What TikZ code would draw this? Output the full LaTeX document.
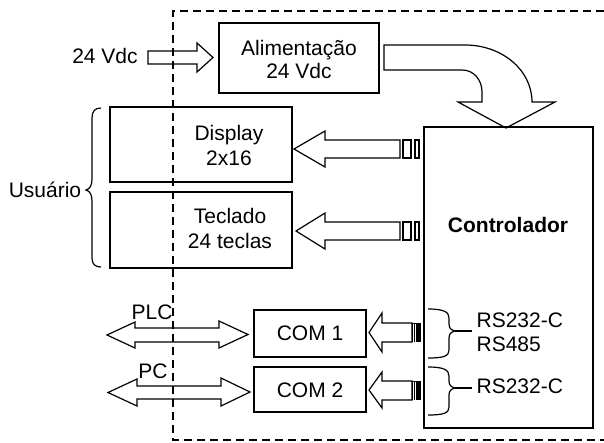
\documentclass[tikz,border=0pt]{standalone}
\usepackage{fontspec}
\setmainfont{Liberation Sans}
\begin{document}
\begin{tikzpicture}[x=1pt,y=-1pt,line width=1.2pt,line join=miter,
  box/.style={draw,line width=1.2pt,inner sep=0pt,outer sep=0pt},
  lbl/.style={font=\fontsize{21}{24}\selectfont,inner sep=0pt,anchor=base},
  lblw/.style={lbl,anchor=base west},
  blockarrow/.style={draw,line width=1.2pt,line join=miter},
  plug/.style={draw,line width=1.1pt},
  darkplug/.style={fill=black,draw=black,line width=0.6pt},
  bracepath/.style={draw,line width=1.2pt},
  boundary/.style={draw,line width=1.3pt,dash pattern=on 8pt off 5pt}]
\useasboundingbox (0,0) rectangle (604,442);

% boxes
\node[box,minimum width=160pt,minimum height=70pt] (alim) at (299,58) {};
\node[box,minimum width=182pt,minimum height=75pt] (disp) at (201,144.5) {};
\node[box,minimum width=182pt,minimum height=76pt] (tecl) at (201,230) {};
\node[box,minimum width=169pt,minimum height=301pt] (ctrl) at (508.5,277.5) {};
\node[box,minimum width=112pt,minimum height=47pt] (com1) at (310,333.5) {};
\node[box,minimum width=112pt,minimum height=45pt] (com2) at (310,389.5) {};

% texts
\node[lbl] (t24) at (105,63) {24 Vdc};
\node[lbl] (alim1) at (299,55) {Alimentação};
\node[lbl] (alim2) at (299,78) {24 Vdc};
\node[lbl] (disp1) at (229,140) {Display};
\node[lbl] (disp2) at (229,165) {2x16};
\node[lbl] (tecl1) at (230,223) {Teclado};
\node[lbl] (tecl2) at (230,248) {24 teclas};
\node[lbl] (usu) at (45,197) {Usuário};
\node[lbl,font=\fontsize{21}{24}\selectfont\bfseries] (ctrlt) at (508,232) {Controlador};
\node[lbl] (com1t) at (310,340) {COM 1};
\node[lbl] (com2t) at (310,397) {COM 2};
\node[lbl] (plc) at (152,319) {PLC};
\node[lbl] (pc) at (153,378) {PC};
\node[lblw] (rs1) at (476,327) {RS232-C};
\node[lblw] (rs2) at (476,351) {RS485};
\node[lblw] (rs3) at (476,393) {RS232-C};

% 24 Vdc input arrow
\draw[blockarrow] (148,51) -- (197,51) -- (197,43) -- (213,57.5) -- (197,72) -- (197,64) -- (148,64) -- cycle;

% curved power arrow
\draw[blockarrow] (384,45) -- (465,45) .. controls (502,45) and (532,70) .. (532,102)
  -- (555,102) -- (506,128) -- (458,102) -- (482,102) -- (482,92)
  .. controls (482,80) and (474,70) .. (462,70) -- (384,70) -- cycle;

% display arrow
\draw[blockarrow] (400,140) -- (325,140) -- (325,131) -- (294,149) -- (325,167) -- (325,158) -- (400,158) -- cycle;
\draw[plug] (403,140) rectangle (411,158);
\draw[plug] (415,140) rectangle (419,158);

% keyboard arrow
\draw[blockarrow] (400,222) -- (325,222) -- (325,213) -- (296,231) -- (325,249) -- (325,240) -- (400,240) -- cycle;
\draw[plug] (403,222) rectangle (411,240);
\draw[plug] (415,222) rectangle (419,240);

% COM arrows
\draw[blockarrow] (412,323) -- (382,323) -- (382,313) -- (369,332.5) -- (382,352) -- (382,342) -- (412,342) -- cycle;
\fill[black] (412,323) rectangle (421,342);
\draw[white,line width=0.7pt] (413.8,323.5) -- (413.8,341.5) (415.8,323.5) -- (415.8,341.5);
\draw[blockarrow] (412,381) -- (382,381) -- (382,372) -- (369,390) -- (382,408) -- (382,400) -- (412,400) -- cycle;
\fill[black] (412,381) rectangle (421,400);
\draw[white,line width=0.7pt] (413.8,381.5) -- (413.8,399.5) (415.8,381.5) -- (415.8,399.5);

% PLC / PC double arrows
\draw[blockarrow] (107,335) -- (135,322) -- (135,328) -- (219,328) -- (219,321) -- (248,334.5)
  -- (219,348) -- (219,342) -- (135,342) -- (135,348) -- cycle;
\draw[blockarrow] (108,392.5) -- (137,379) -- (137,386) -- (221,386) -- (221,378) -- (250,392)
  -- (221,406) -- (221,399) -- (137,399) -- (137,406) -- cycle;

% braces
\draw[bracepath] (101,108) .. controls (95,108) and (92,111) .. (92,118) -- (92,179)
  .. controls (92,185) and (90,189) .. (86,190) .. controls (90,191) and (92,195) .. (92,201)
  -- (92,258) .. controls (92,264) and (95,267) .. (101,267);
\draw[bracepath] (428,309) .. controls (444,309) and (449,312) .. (449,318) -- (449,324)
  .. controls (449,328) and (451,330) .. (455,331) .. controls (451,332) and (449,334) .. (449,338)
  -- (449,350) .. controls (449,356) and (444,358) .. (428,358);
\draw[bracepath] (455,331) -- (472,331);
\draw[bracepath] (428,367) .. controls (444,367) and (449,370) .. (449,376) -- (449,381)
  .. controls (449,385) and (451,387) .. (455,388) .. controls (451,389) and (449,391) .. (449,395)
  -- (449,407) .. controls (449,413) and (444,415) .. (428,415);
\draw[bracepath] (455,388) -- (472,388);

% dashed boundary
\draw[boundary] (604,11) -- (173,11) -- (173,440) -- (604,440);
\end{tikzpicture}
\end{document}
